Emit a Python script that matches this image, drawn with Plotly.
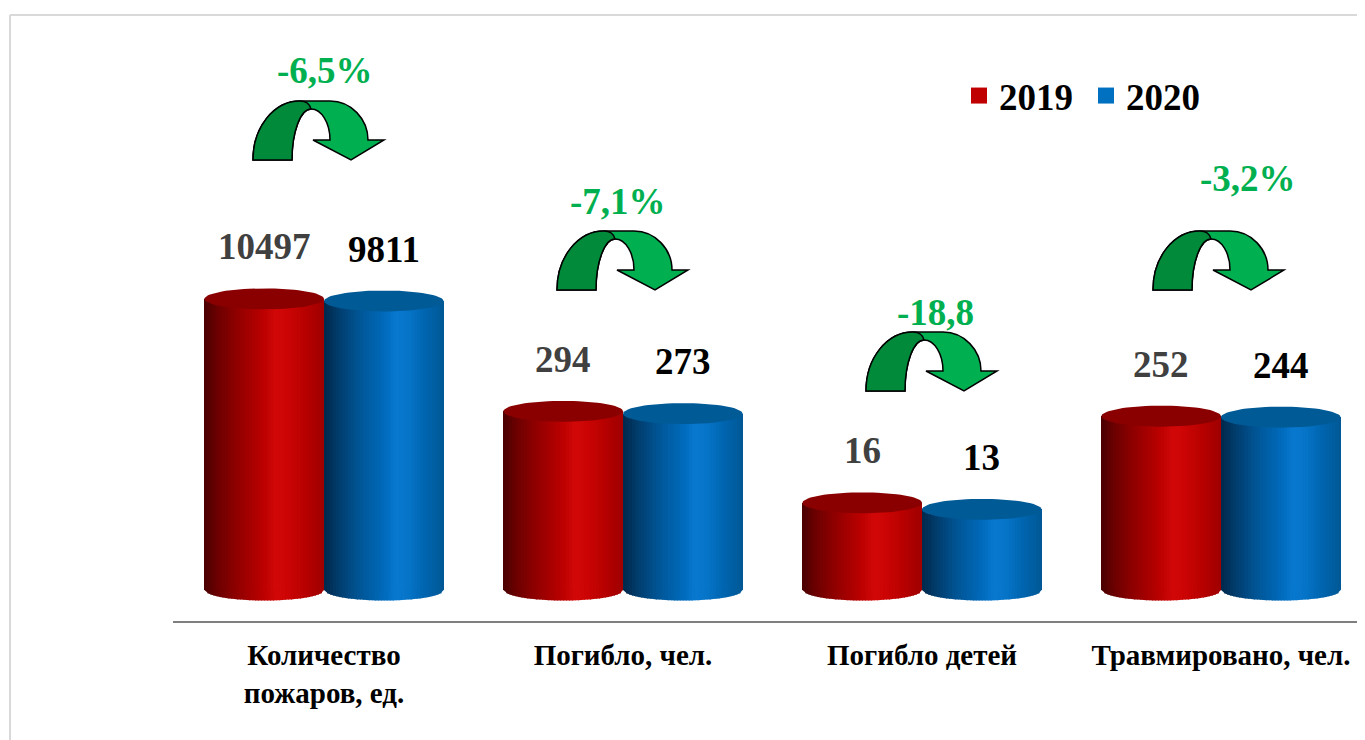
import numpy as np
import plotly.graph_objects as go

# ---------------- data ----------------
categories = ["Количество<br>пожаров, ед.", "Погибло, чел.", "Погибло детей", "Травмировано, чел."]
values_2019 = [10497, 294, 16, 252]
values_2020 = [9811, 273, 13, 244]
change_labels = ["-6,5%", "-7,1%", "-18,8", "-3,2%"]
series_names = ["2019", "2020"]

# ---------------- layout geometry (page pixels) ----------------
OFF = 8                      # default body margin of the html page
W, H = 1365 - OFF, 740 - OFF
PLOT_L, PLOT_R, PLOT_T, PLOT_B = 173, 1365, 20, 621
PX_PER_DECADE = 72.4
BASE_PX = 590                # page row of value 1 (cylinder base)
LOG_MIN = -(PLOT_B - BASE_PX) / PX_PER_DECADE
LOG_MAX = LOG_MIN + (PLOT_B - PLOT_T) / PX_PER_DECADE
X_MIN = -0.505
X_MAX = X_MIN + (PLOT_R - PLOT_L) / 299.0
BASE = 1

FONT = "Liberation Serif"
BAR_W = 0.4
N_STRIPS = 40
ELL_H = 10.5

red_stops = [(0, "#4a0000"), (0.12, "#6e0000"), (0.3, "#960000"), (0.5, "#bc0000"),
             (0.6, "#d20808"), (0.7, "#cc0404"), (0.85, "#b60000"), (1.0, "#9e0000")]
blue_stops = [(0, "#00284a"), (0.12, "#003c6c"), (0.3, "#005696"), (0.5, "#006abb"),
              (0.6, "#0878d0"), (0.7, "#0674c8"), (0.85, "#0064ae"), (1.0, "#005894")]
top_colors = ["#8a0000", "#005a96"]
legend_colors = ["#c00000", "#0070c0"]
label_colors = ["#404040", "#000000"]


def hex2rgb(h):
    h = h.lstrip("#")
    return [int(h[i:i + 2], 16) for i in (0, 2, 4)]


def grad(stops, t):
    for (t0, c0), (t1, c1) in zip(stops[:-1], stops[1:]):
        if t0 <= t <= t1:
            a = (t - t0) / (t1 - t0)
            r0, r1 = hex2rgb(c0), hex2rgb(c1)
            c = [round(r0[k] + (r1[k] - r0[k]) * a) for k in range(3)]
            return "rgb(%d,%d,%d)" % tuple(c)
    return stops[-1][1]


def px(x):
    return (x - PLOT_L) / (PLOT_R - PLOT_L)


def py(y):
    return (PLOT_B - y) / (PLOT_B - PLOT_T)


x_pos = list(range(len(categories)))
fig = go.Figure()
shapes = []
annotations = []

series = [values_2019, values_2020]
stops_list = [red_stops, blue_stops]
dx = BAR_W / N_STRIPS

# cylinder bodies (vertical strips with a horizontal shading gradient)
for s, vals in enumerate(series):
    start = -BAR_W if s == 0 else 0.0
    for i in range(N_STRIPS):
        t = (i + 0.5) / N_STRIPS
        col = grad(stops_list[s], t)
        off = start + i * dx
        w = dx + 0.003 if i < N_STRIPS - 1 else dx
        fig.add_trace(go.Bar(
            x=x_pos, y=[v - BASE for v in vals], base=BASE, offset=off, width=w,
            marker=dict(color=col, line=dict(width=0)),
            showlegend=False, hoverinfo="skip",
        ))
        # rounded bottom of the cylinder
        for c in x_pos:
            xa = c + off
            xb = c + off + dx
            xc = c + start + BAR_W / 2
            r = BAR_W / 2
            da = ELL_H * np.sqrt(max(0.0, 1 - ((xa - xc) / r) ** 2))
            db = ELL_H * np.sqrt(max(0.0, 1 - ((xb - xc) / r) ** 2))
            xb2 = xb + (0.003 if i < N_STRIPS - 1 else 0)
            shapes.append(dict(
                type="path", xref="x", yref="y", ysizemode="pixel", yanchor=BASE,
                path="M %.5f,1 L %.5f,1 L %.5f,%.2f L %.5f,%.2f Z" % (xa, xb2, xb2, -db, xa, -da),
                fillcolor=col, line=dict(width=0), layer="above",
            ))

# cylinder tops (ellipses) and value labels
theta = np.linspace(0, 2 * np.pi, 73)
for s, vals in enumerate(series):
    start = -BAR_W if s == 0 else 0.0
    for c, v in zip(x_pos, vals):
        xc = c + start + BAR_W / 2
        ex = xc + BAR_W / 2 * np.cos(theta)
        ey = v * 10 ** (ELL_H * np.sin(theta) / PX_PER_DECADE)
        fig.add_trace(go.Scatter(
            x=ex, y=ey, mode="lines", fill="toself", fillcolor=top_colors[s],
            line=dict(width=0, color=top_colors[s]), showlegend=False, hoverinfo="skip",
        ))
        annotations.append(dict(
            x=xc, y=np.log10(v), xref="x", yref="y",
            text=str(v), showarrow=False, yshift=52,
            font=dict(family=FONT, size=37, color=label_colors[s], weight="bold"),
        ))

# legend entries
for s, name in enumerate(series_names):
    fig.add_trace(go.Scatter(
        x=[None], y=[None], mode="markers", name=name,
        marker=dict(symbol="square", size=18, color=legend_colors[s]),
    ))

# ---------------- decorative curved arrows ----------------
arrow_anchor = [(253, 160), (557, 290), (866, 391), (1153, 290)]
label_center = [(325, 70), (618, 202), (935, 312), (1248, 178)]

full_arrow = [("M", [(0, 0)]), ("C", [(0, 33), (21, 59), (47, 59)]), ("L", [(77, 59)]),
              ("C", [(98, 59), (115, 41), (115, 20)]), ("L", [(131, 20)]), ("L", [(98, 0)]),
              ("L", [(60, 20)]), ("L", [(77, 20)]), ("C", [(77, 37), (68.5, 51), (58, 51)]),
              ("C", [(47.5, 51), (39, 28), (39, 0)]), ("Z", [])]
dark_part = [("M", [(0, 0)]), ("C", [(0, 33), (21, 59), (47, 59)]), ("Q", [(56, 59), (58, 51)]),
             ("C", [(47.5, 51), (39, 28), (39, 0)]), ("Z", [])]


def make_path(cmds, ax, ay):
    out = []
    for cmd, pts in cmds:
        coords = " ".join("%.5f,%.5f" % (px(ax + lx), py(ay - ly)) for lx, ly in pts)
        out.append(cmd + " " + coords if coords else cmd)
    return " ".join(out)


for k, (ax, ay) in enumerate(arrow_anchor):
    shapes.append(dict(type="path", xref="paper", yref="paper", path=make_path(full_arrow, ax, ay),
                       fillcolor="#00b050", line=dict(color="black", width=1.5), layer="above"))
    shapes.append(dict(type="path", xref="paper", yref="paper", path=make_path(dark_part, ax, ay),
                       fillcolor="#008a3a", line=dict(color="black", width=1.5), layer="above"))
    lx, ly = label_center[k]
    annotations.append(dict(
        x=px(lx), y=py(ly), xref="paper", yref="paper", text=change_labels[k], showarrow=False,
        xanchor="center", yanchor="middle",
        font=dict(family=FONT, size=37, color="#00b050", weight="bold"),
    ))

# outer frame
shapes.append(dict(type="line", xref="paper", yref="paper", x0=px(10), x1=px(10), y0=py(15), y1=py(760),
                   line=dict(color="#d9d9d9", width=2)))
shapes.append(dict(type="line", xref="paper", yref="paper", x0=px(10), x1=px(1380), y0=py(15), y1=py(15),
                   line=dict(color="#d9d9d9", width=2)))

fig.update_layout(
    width=W, height=H,
    margin=dict(l=PLOT_L - OFF, r=W - (PLOT_R - OFF), t=PLOT_T - OFF, b=H - (PLOT_B - OFF)),
    paper_bgcolor="white", plot_bgcolor="white",
    barmode="overlay", bargap=0,
    hovermode=False,
    shapes=shapes, annotations=annotations,
    showlegend=True,
    legend=dict(orientation="h", x=px(959), y=py(65), xanchor="left", yanchor="top",
                font=dict(family=FONT, size=37, color="black", weight="bold"),
                bgcolor="rgba(0,0,0,0)", itemwidth=30, entrywidth=82, entrywidthmode="pixels"),
    xaxis=dict(range=[X_MIN, X_MAX], showgrid=False, zeroline=False,
               tickmode="array", tickvals=x_pos, ticktext=categories,
               showline=True, linecolor="#7f7f7f", linewidth=2, ticks="",
               tickfont=dict(family=FONT, size=29, color="black", weight="bold"),
               ticklabelstandoff=7, fixedrange=True),
    yaxis=dict(type="log", range=[LOG_MIN, LOG_MAX], visible=False, fixedrange=True),
)

fig.write_html("out.html")
